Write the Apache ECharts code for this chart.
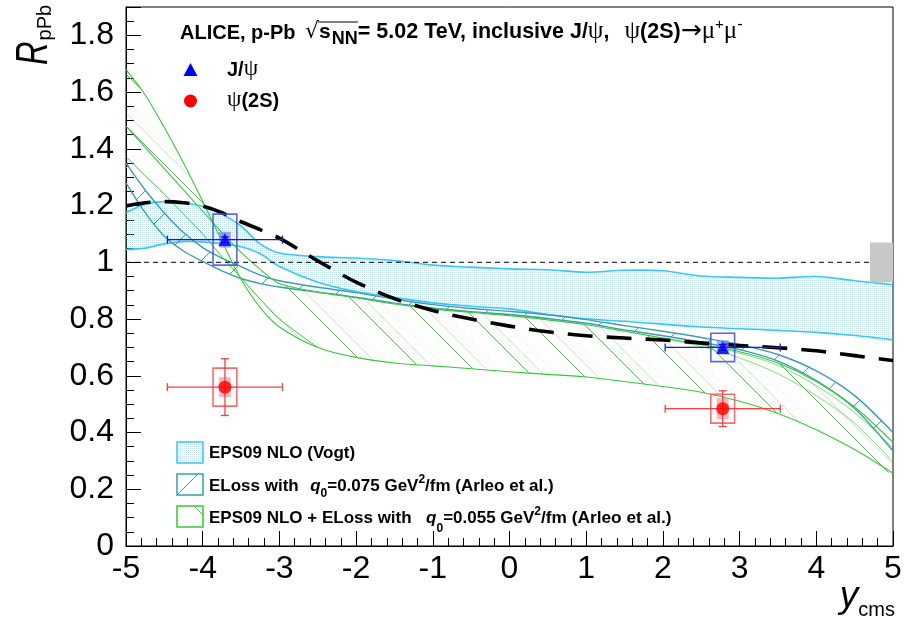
<!DOCTYPE html>
<html>
<head>
<meta charset="utf-8">
<script src="https://cdn.jsdelivr.net/npm/echarts@6/dist/echarts.min.js"></script>
<style>
  html, body { margin: 0; padding: 0; background: #fff; }
  #chart { width: 909px; height: 620px; }
</style>
</head>
<body>
<div id="chart"></div>
<script>
// ---------------- data ----------------
// rapidity points at which the model curves are tabulated
const rapidityGrid = [-5, -4.75, -4.5, -4.25, -4, -3.75, -3.5, -3.25, -3, -2.5, -2, -1.5, -1, -0.5, 0, 0.5, 1, 1.5, 2, 2.5, 3, 3.5, 4, 4.5, 5];

// EPS09 NLO (Vogt): upper / lower edge of the band
const eps09Upper = [1.175, 1.205, 1.214, 1.21, 1.197, 1.17, 1.128, 1.065, 1.033, 1.02, 1.015, 1.006, 0.99, 0.983, 0.977, 0.974, 0.965, 0.972, 0.97, 0.952, 0.947, 0.944, 0.95, 0.935, 0.921];
const eps09Lower = [1.045, 1.05, 1.065, 1.073, 1.072, 1.066, 1.055, 1.03, 0.985, 0.93, 0.897, 0.876, 0.857, 0.845, 0.836, 0.816, 0.801, 0.792, 0.782, 0.772, 0.766, 0.76, 0.753, 0.742, 0.727];

// ELoss with q0 = 0.075 GeV^2/fm (Arleo et al.)
const elossUpper = [1.35, 1.255, 1.174, 1.105, 1.052, 1.015, 0.985, 0.955, 0.935, 0.912, 0.893, 0.87, 0.851, 0.837, 0.827, 0.815, 0.798, 0.777, 0.757, 0.735, 0.71, 0.675, 0.617, 0.53, 0.40];
const elossLower = [1.28, 1.175, 1.092, 1.04, 1.003, 0.97, 0.943, 0.925, 0.913, 0.895, 0.877, 0.856, 0.839, 0.826, 0.816, 0.802, 0.785, 0.762, 0.741, 0.718, 0.692, 0.652, 0.583, 0.485, 0.335];

// EPS09 NLO + ELoss with q0 = 0.055 GeV^2/fm: the two bounding curves (they cross) ...
const eps09ElossA = [1.68, 1.59, 1.475, 1.35, 1.215, 1.075, 0.94, 0.84, 0.772, 0.70, 0.665, 0.645, 0.635, 0.625, 0.614, 0.605, 0.596, 0.58, 0.562, 0.542, 0.51, 0.467, 0.41, 0.34, 0.256];
const eps09ElossB = [1.48, 1.405, 1.33, 1.255, 1.18, 1.105, 1.035, 0.975, 0.925, 0.895, 0.875, 0.853, 0.836, 0.823, 0.812, 0.797, 0.78, 0.757, 0.733, 0.71, 0.685, 0.645, 0.58, 0.49, 0.365];
// ... and the inner curves of the same calculation
const eps09ElossC = [1.373, 1.305, 1.24, 1.17, 1.10, 1.02, 0.945, 0.87, 0.80, 0.70, null, null, null, null, null, null, null, null, null, null, null, null, null, null, null];
const eps09ElossD = [null, null, null, null, null, null, null, null, null, null, null, null, null, null, null, null, null, null, null, 0.71, 0.68, 0.637, 0.565, 0.47, 0.346];
const eps09ElossE = [null, null, null, null, null, null, null, null, null, null, null, null, null, null, null, null, null, null, 0.733, 0.703, 0.663, 0.607, 0.53, 0.433, 0.297];

// black long-dashed model curve
const dashedModel = [1.199, 1.21, 1.214, 1.21, 1.198, 1.175, 1.143, 1.115, 1.085, 1.005, 0.93, 0.872, 0.83, 0.80, 0.775, 0.755, 0.741, 0.733, 0.726, 0.716, 0.707, 0.699, 0.688, 0.671, 0.654];

// measured points (backward, forward rapidity)
const binCentre = [-3.71, 2.78];
const binHalfWidth = [0.75, 0.75];
const jpsiR = [1.08, 0.70];
const jpsiStat = [0.01, 0.01];
const jpsiSystUncorr = [0.09, 0.05];
const jpsiSystCorr = [0.028, 0.025];
const psi2sR = [0.56, 0.484];
const psi2sStat = [0.10, 0.063];
const psi2sSystUncorr = [0.067, 0.051];
const psi2sSystCorr = [0.035, 0.037];

// global (fully correlated) uncertainty around unity
const globalSyst = 0.07;
const unity = 1;

// axis ticks
const xTickValues = [-5, -4, -3, -2, -1, 0, 1, 2, 3, 4, 5];
const yTickValues = [0, 0.2, 0.4, 0.6, 0.8, 1, 1.2, 1.4, 1.6, 1.8];

// ---------------- styling helpers ----------------
const SANS = '"Liberation Sans", Arial, Helvetica, sans-serif';
const SERIF = '"Liberation Serif", "DejaVu Serif", serif';
const CYAN = '#38c8f2';
const TEAL = '#3a9db0';
const GREEN = '#36c936';
const SMOOTH = 0.3;

function makePattern(w, h, draw) {
  const c = document.createElement('canvas');
  c.width = w; c.height = h;
  draw(c.getContext('2d'), w, h);
  return { image: c, repeat: 'repeat' };
}
// fine dotted fill
const dotFill = makePattern(2, 2, (ctx) => {
  ctx.fillStyle = 'rgba(60,198,245,0.42)';
  ctx.fillRect(0, 0, 1, 1);
});
// sparse "/" hatching
const slashFill = makePattern(42, 42, (ctx, w) => {
  ctx.strokeStyle = TEAL; ctx.lineWidth = 1;
  for (let k = -1; k <= 1; k++) {
    ctx.beginPath(); ctx.moveTo(k * w, w); ctx.lineTo(k * w + w, 0); ctx.stroke();
  }
});
// "\" hatching with pale companion lines
const backslashFill = makePattern(52, 52, (ctx, w) => {
  const draw = (off, color) => {
    ctx.strokeStyle = color; ctx.lineWidth = 1;
    for (let k = -1; k <= 1; k++) {
      ctx.beginPath(); ctx.moveTo(k * w + off, 0); ctx.lineTo(k * w + off + w, w); ctx.stroke();
    }
  };
  draw(0, 'rgba(54,201,54,0.95)');
  draw(13, 'rgba(54,201,54,0.32)');
  draw(26, 'rgba(54,201,54,0.12)');
});

function curvePoints(api, ys) {
  const pts = [];
  rapidityGrid.forEach((x, i) => { if (ys[i] != null) pts.push(api.coord([x, ys[i]])); });
  return pts;
}

function bandSeries(upper, lower, fill, edge, edgeWidth, z) {
  return {
    type: 'custom', silent: true, clip: true, z: z,
    data: [[0, 1]],
    renderItem: function (params, api) {
      const up = curvePoints(api, upper);
      const lo = curvePoints(api, lower);
      return {
        type: 'group',
        children: [
          { type: 'polygon', shape: { points: up.concat(lo.slice().reverse()), smooth: SMOOTH }, style: { fill: fill, stroke: null } },
          { type: 'polyline', shape: { points: up, smooth: SMOOTH }, style: { fill: null, stroke: edge, lineWidth: edgeWidth } },
          { type: 'polyline', shape: { points: lo, smooth: SMOOTH }, style: { fill: null, stroke: edge, lineWidth: edgeWidth } }
        ]
      };
    }
  };
}

function curveSeries(ys, style, z) {
  return {
    type: 'custom', silent: true, clip: true, z: z,
    data: [[0, 1]],
    renderItem: function (params, api) {
      return { type: 'polyline', shape: { points: curvePoints(api, ys), smooth: SMOOTH }, style: Object.assign({ fill: null }, style) };
    }
  };
}

function pointRows(values, stat, syU, syC) {
  return binCentre.map((x, i) => [x, values[i], stat[i], syU[i], syC[i], binHalfWidth[i]]);
}

function uncertaintySeries(rows, lineColor, boxColor, fillColor, z) {
  return {
    type: 'custom', silent: true, z: z,
    data: rows,
    renderItem: function (params, api) {
      const x = api.value(0), y = api.value(1), st = api.value(2), su = api.value(3), sc = api.value(4), hb = api.value(5);
      const L = api.coord([x - hb, y]), R = api.coord([x + hb, y]);
      const T = api.coord([x, y + st]), B = api.coord([x, y - st]);
      const u0 = api.coord([x - 0.155, y + su]), u1 = api.coord([x + 0.155, y - su]);
      const c0 = api.coord([x - 0.077, y + sc]), c1 = api.coord([x + 0.077, y - sc]);
      const cap = 4;
      const seg = (a, b, c, d) => ({ type: 'line', shape: { x1: a, y1: b, x2: c, y2: d }, style: { stroke: lineColor, lineWidth: 1.3 } });
      return {
        type: 'group',
        children: [
          { type: 'rect', shape: { x: c0[0], y: c0[1], width: c1[0] - c0[0], height: c1[1] - c0[1] }, style: { fill: fillColor, stroke: null } },
          { type: 'rect', shape: { x: u0[0], y: u0[1], width: u1[0] - u0[0], height: u1[1] - u0[1] }, style: { fill: null, stroke: boxColor, lineWidth: 1.6 } },
          seg(L[0], L[1], R[0], R[1]),
          seg(L[0], L[1] - cap, L[0], L[1] + cap),
          seg(R[0], R[1] - cap, R[0], R[1] + cap),
          seg(T[0], T[1], B[0], B[1]),
          seg(T[0] - cap, T[1], T[0] + cap, T[1]),
          seg(B[0] - cap, B[1], B[0] + cap, B[1])
        ]
      };
    }
  };
}

// ---------------- text layout ----------------
const measureCtx = document.createElement('canvas').getContext('2d');
function fontOf(s) {
  return (s.italic ? 'italic ' : '') + (s.bold ? 'bold ' : '') + s.size + 'px ' + (s.family || SANS);
}
function textWidth(segs) {
  let w = 0;
  segs.forEach(s => { measureCtx.font = fontOf(s); w += measureCtx.measureText(s.text).width + (s.after || 0); });
  return w;
}
function richLine(x, baseline, segs) {
  const els = [], marks = [];
  let cx = x;
  segs.forEach(s => {
    const font = fontOf(s);
    measureCtx.font = font;
    const w = measureCtx.measureText(s.text).width;
    marks.push(cx);
    if (s.text.trim()) {
      els.push({
        type: 'text', x: cx, y: baseline + (s.dy || 0) - 0.35 * s.size, silent: true,
        style: { text: s.text, font: font, fill: s.color || '#000', textAlign: 'left', textVerticalAlign: 'middle' }
      });
    }
    cx += w + (s.after || 0);
  });
  marks.push(cx);
  return { els: els, marks: marks };
}

const graphics = [];

// header line
const header = richLine(180, 40, [
  { text: 'ALICE, p-Pb ', bold: true, size: 20, after: 4 },
  { text: '√', size: 22, family: '"DejaVu Sans", sans-serif' },
  { text: 's', bold: true, size: 21, after: 1 },
  { text: 'NN', bold: true, size: 18, dy: 5 },
  { text: '= 5.02 TeV, inclusive J/', bold: true, size: 21.5 },
  { text: 'ψ', size: 25, family: SERIF },
  { text: ',  ', bold: true, size: 21.5, after: 3 },
  { text: 'ψ', size: 25, family: SERIF },
  { text: '(2S)', bold: true, size: 21.5 },
  { text: '→', size: 25, family: '"DejaVu Sans", sans-serif' },
  { text: 'μ', size: 25, family: SERIF },
  { text: '+', size: 15, dy: -10 },
  { text: 'μ', size: 25, family: SERIF },
  { text: '-', size: 16, dy: -10 }
]);
graphics.push(...header.els);
graphics.push({ type: 'line', silent: true, shape: { x1: header.marks[2] - 1, y1: 22, x2: header.marks[4], y2: 22 }, style: { stroke: '#000', lineWidth: 1.2 } });

// marker legend
graphics.push({ type: 'polygon', silent: true, shape: { points: [[190.5, 63], [183.5, 76], [197.5, 76]] }, style: { fill: '#0000ff' } });
graphics.push(...richLine(227, 77, [{ text: 'J/', bold: true, size: 20 }, { text: 'ψ', size: 23, family: SERIF }]).els);
graphics.push({ type: 'circle', silent: true, shape: { cx: 190.5, cy: 101, r: 6.5 }, style: { fill: '#ff0000' } });
graphics.push(...richLine(227, 108, [{ text: 'ψ', size: 23, family: SERIF }, { text: '(2S)', bold: true, size: 20 }]).els);

// band legend
const legendBoxes = [
  { y: 442, fill: dotFill, stroke: CYAN },
  { y: 474, fill: slashFill, stroke: TEAL },
  { y: 506, fill: backslashFill, stroke: GREEN }
];
legendBoxes.forEach(b => {
  graphics.push({ type: 'rect', silent: true, shape: { x: 177, y: b.y, width: 26, height: 21 }, style: { fill: b.fill, stroke: b.stroke, lineWidth: 1.5 } });
});
graphics.push(...richLine(209, 459, [{ text: 'EPS09 NLO (Vogt)', bold: true, size: 17 }]).els);
graphics.push(...richLine(209, 492, [
  { text: 'ELoss with  ', bold: true, size: 17, after: 2 },
  { text: 'q', bold: true, italic: true, size: 17 },
  { text: '0', bold: true, size: 12, dy: 6 },
  { text: '=0.075 GeV', bold: true, size: 17 },
  { text: '2', bold: true, size: 12, dy: -8 },
  { text: '/fm (Arleo et al.)', bold: true, size: 17 }
]).els);
graphics.push(...richLine(209, 524, [
  { text: 'EPS09 NLO + ELoss with  ', bold: true, size: 17, after: 5 },
  { text: 'q', bold: true, italic: true, size: 17 },
  { text: '0', bold: true, size: 12, dy: 9 },
  { text: '=0.055 GeV', bold: true, size: 17 },
  { text: '2', bold: true, size: 12, dy: -8 },
  { text: '/fm (Arleo et al.)', bold: true, size: 17.3 }
]).els);

// axis titles: a tall, narrow italic R with the pPb subscript, reading upwards
const R_SIZE = 44, R_SQUEEZE = 0.74;
measureCtx.font = fontOf({ text: 'R', italic: true, size: R_SIZE });
const rAdvance = measureCtx.measureText('R').width * R_SQUEEZE;
const rGlyph = richLine(0, 0, [{ text: 'R', italic: true, size: R_SIZE }]);
const rSub = richLine(rAdvance + 1, 0, [{ text: 'pPb', size: 20, dy: 2 }]);
graphics.push({
  type: 'group', x: 50, y: 65, rotation: Math.PI / 2,
  children: [{ type: 'group', scaleX: R_SQUEEZE, children: rGlyph.els }].concat(rSub.els)
});
const xTitleSegs = [{ text: 'y', italic: true, size: 37 }, { text: 'cms', size: 20, dy: 7 }];
graphics.push(...richLine(895 - textWidth(xTitleSegs), 610, xTitleSegs).els);

// ---------------- chart ----------------
const chart = echarts.init(document.getElementById('chart'), null, { renderer: 'canvas' });
const tickFont = { fontFamily: SANS, fontSize: 32, color: '#000' };

chart.setOption({
  animation: false,
  backgroundColor: '#fff',
  grid: { left: 126, right: 16, top: 7, bottom: 74, show: true, borderColor: '#000', borderWidth: 1, backgroundColor: 'transparent' },
  xAxis: {
    type: 'value', min: -5, max: 5, interval: 1,
    axisLine: { onZero: false, lineStyle: { color: '#000', width: 1 } },
    axisTick: { inside: true, length: 15, lineStyle: { color: '#000', width: 1 } },
    minorTick: { show: true, splitNumber: 5, length: 8, lineStyle: { color: '#000', width: 1 } },
    splitLine: { show: false },
    axisLabel: Object.assign({ margin: 7, formatter: v => (xTickValues.indexOf(Math.round(v)) >= 0 ? String(Math.round(v)) : '') }, tickFont)
  },
  yAxis: [{
    type: 'value', min: 0, max: 1.9, interval: 0.2, position: 'left',
    axisLine: { onZero: false, lineStyle: { color: '#000', width: 1 } },
    axisTick: { inside: true, length: 15, lineStyle: { color: '#000', width: 1 } },
    splitLine: { show: false },
    axisLabel: Object.assign({
      margin: 12,
      formatter: function (v) {
        const hit = yTickValues.find(t => Math.abs(t - v) < 1e-6);
        return hit === undefined ? '' : String(hit);
      }
    }, tickFont)
  }, {
    // minor ticks every 0.05
    type: 'value', min: 0, max: 1.9, interval: 0.05, position: 'left', offset: 0,
    axisLine: { show: false, onZero: false },
    axisTick: { inside: true, length: 8, lineStyle: { color: '#000', width: 1 } },
    axisLabel: { show: false },
    splitLine: { show: false }
  }],
  graphic: graphics,
  series: [
    bandSeries(eps09Upper, eps09Lower, dotFill, CYAN, 1.6, 2),
    bandSeries(elossUpper, elossLower, slashFill, TEAL, 1.4, 3),
    bandSeries(eps09ElossA, eps09ElossB, backslashFill, GREEN, 1.1, 4),
    curveSeries(eps09ElossC, { stroke: GREEN, lineWidth: 1 }, 4),
    curveSeries(eps09ElossD, { stroke: GREEN, lineWidth: 0.8, opacity: 0.8 }, 4),
    curveSeries(eps09ElossE, { stroke: GREEN, lineWidth: 0.8, opacity: 0.8 }, 4),
    {
      type: 'custom', silent: true, z: 5, data: [[5, unity]],
      renderItem: function (params, api) {
        const a = api.coord([-5, unity]), b = api.coord([5, unity]);
        return { type: 'line', shape: { x1: a[0], y1: a[1], x2: b[0], y2: b[1] }, style: { stroke: '#000', lineWidth: 1, lineDash: [5, 4] } };
      }
    },
    curveSeries(dashedModel, { stroke: '#000', lineWidth: 3.6, lineDash: [25, 14] }, 6),
    {
      type: 'custom', silent: true, z: 7, data: [[5, unity, globalSyst]],
      renderItem: function (params, api) {
        const p0 = api.coord([4.7, unity + api.value(2)]), p1 = api.coord([5, unity - api.value(2)]);
        return { type: 'rect', shape: { x: p0[0], y: p0[1], width: p1[0] - p0[0], height: p1[1] - p0[1] }, style: { fill: '#c8c8c8' } };
      }
    },
    uncertaintySeries(pointRows(jpsiR, jpsiStat, jpsiSystUncorr, jpsiSystCorr), '#1a1ad0', 'rgba(70,70,240,0.85)', 'rgba(130,130,255,0.75)', 8),
    uncertaintySeries(pointRows(psi2sR, psi2sStat, psi2sSystUncorr, psi2sSystCorr), 'rgba(255,40,40,0.9)', 'rgba(255,80,80,0.85)', 'rgba(255,150,150,0.7)', 8),
    {
      type: 'scatter', silent: true, z: 9, symbol: 'triangle', symbolSize: 13,
      itemStyle: { color: '#0000ff' },
      data: binCentre.map((x, i) => [x, jpsiR[i]])
    },
    {
      type: 'scatter', silent: true, z: 9, symbol: 'circle', symbolSize: 13,
      itemStyle: { color: '#ff0000' },
      data: binCentre.map((x, i) => [x, psi2sR[i]])
    }
  ]
});
</script>
</body>
</html>
